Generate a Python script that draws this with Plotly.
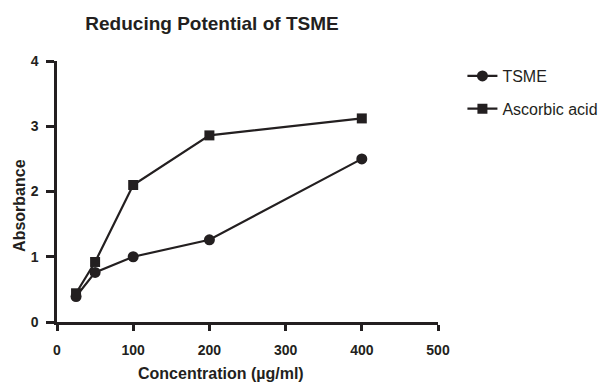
import plotly.graph_objects as go

concentration = [25, 50, 100, 200, 400]
tsme = [0.39, 0.76, 1.00, 1.26, 2.50]
ascorbic = [0.44, 0.92, 2.10, 2.86, 3.12]
x_ticks = [0, 100, 200, 300, 400, 500]
y_ticks = [0, 1, 2, 3, 4]

FONT = "Liberation Sans, Arial, sans-serif"
INK = "#231f20"

W, H = 607, 374  # page body has an 8px margin

fig = go.Figure()
fig.add_trace(go.Scatter(x=concentration, y=tsme, name="TSME", mode="lines+markers",
                         legendgroup="a",
                         line=dict(color=INK, width=2.2),
                         marker=dict(symbol="circle", size=11, color=INK),
                         cliponaxis=False))
fig.add_trace(go.Scatter(x=concentration, y=ascorbic, name="Ascorbic acid", mode="lines+markers",
                         legendgroup="b",
                         line=dict(color=INK, width=2.2),
                         marker=dict(symbol="square", size=10, color=INK),
                         cliponaxis=False))

axis_common = dict(ticks="outside", tickwidth=2.5, tickcolor=INK, showline=True,
                   linewidth=2.5, linecolor=INK, showgrid=False, zeroline=False,
                   tickfont=dict(size=14, family=FONT, color=INK, weight="bold"))

fig.update_layout(
    width=W, height=H,
    paper_bgcolor="white", plot_bgcolor="white",
    margin=dict(l=49, r=168, t=53, b=60),
    font=dict(family=FONT, color=INK),
    title=dict(text="<b>Reducing Potential of TSME</b>", x=204 / W, xanchor="center",
               y=1 - 15 / H, yanchor="middle", font=dict(size=19, family=FONT, color=INK)),
    xaxis=dict(range=[0, 500], tickvals=x_ticks, ticklen=6, ticklabelstandoff=7, **axis_common),
    yaxis=dict(range=[0, 4], tickvals=y_ticks, ticklen=8, ticklabelstandoff=5, **axis_common),
    legend=dict(x=(472 - 8 - 49) / 390, y=1 + 2 / 261, xanchor="left", yanchor="top",
                itemwidth=30, font=dict(size=16, family=FONT, color=INK), tracegroupgap=9,
                bgcolor="rgba(0,0,0,0)"),
    annotations=[
        dict(text="<b>Absorbance</b>", xref="paper", yref="paper",
             x=(10 - 49) / 390, y=(314 - 197) / 261, textangle=-90, showarrow=False,
             xanchor="center", yanchor="middle", font=dict(size=16, family=FONT, color=INK)),
        dict(text="<b>Concentration (µg/ml)</b>", xref="paper", yref="paper",
             x=(217 - 49) / 390, y=(314 - 365) / 261, showarrow=False,
             xanchor="center", yanchor="middle", font=dict(size=16, family=FONT, color=INK)),
    ],
)

fig.write_html("out.html")
